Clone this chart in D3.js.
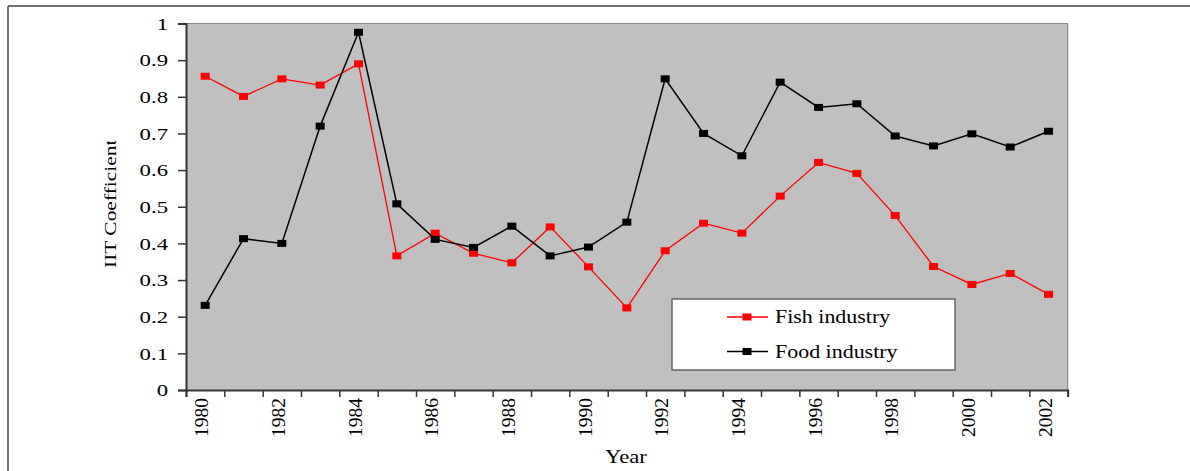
<!DOCTYPE html>
<html>
<head>
<meta charset="utf-8">
<script src="https://cdn.jsdelivr.net/npm/d3@7"></script>
<style>
  html, body { margin: 0; padding: 0; background: #fff; }
  svg { display: block; }
  text { font-family: "Liberation Serif", "Times New Roman", serif; fill: #000; }
</style>
</head>
<body>
<svg id="chart" width="1190" height="471"></svg>
<script>
const years = [1980,1981,1982,1983,1984,1985,1986,1987,1988,1989,1990,1991,1992,1993,1994,1995,1996,1997,1998,1999,2000,2001,2002];
const fishIndustry = [0.856,0.801,0.849,0.832,0.890,0.366,0.428,0.373,0.347,0.445,0.336,0.224,0.380,0.455,0.428,0.529,0.621,0.591,0.476,0.337,0.288,0.318,0.261];
const foodIndustry = [0.231,0.413,0.400,0.720,0.976,0.508,0.411,0.389,0.447,0.366,0.390,0.458,0.849,0.700,0.639,0.840,0.771,0.781,0.693,0.666,0.699,0.663,0.706];
const yTicks = [0,0.1,0.2,0.3,0.4,0.5,0.6,0.7,0.8,0.9,1];
const yTickLabels = ["0","0.1","0.2","0.3","0.4","0.5","0.6","0.7","0.8","0.9","1"];
const xTickLabels = [1980,1982,1984,1986,1988,1990,1992,1994,1996,1998,2000,2002];
const seriesNames = ["Fish industry","Food industry"];
const seriesColors = ["#ff0000","#000000"];

const svg = d3.select("#chart");
const L = 186, R = 1067.7, T = 23.5, B = 390;

// outer frame
svg.append("line").attr("x1",8).attr("x2",1190).attr("y1",6).attr("y2",6)
  .attr("stroke","#404040").attr("stroke-width",1.5);
svg.append("line").attr("x1",8).attr("x2",8).attr("y1",6).attr("y2",471)
  .attr("stroke","#404040").attr("stroke-width",1.5);

const x = d3.scaleBand().domain(years).range([L, R]).padding(0);
const xb = d3.scaleLinear().domain([1979.5, 2002.5]).range([L, R]);
const y = d3.scaleLinear().domain([0, 1]).range([B, T]);
const bw = x.bandwidth();
const cx = d => x(d) + bw / 2;

// plot area
svg.append("rect").attr("x",L).attr("y",T).attr("width",R-L).attr("height",B-T)
  .attr("fill","#c0c0c0");
svg.append("path").attr("d",`M${L},${T}H${R}V${B}`).attr("fill","none")
  .attr("stroke","#8a8a8a").attr("stroke-width",1.2);

// y axis
const yAxis = d3.axisLeft(y).tickValues(yTicks).tickSize(8).tickPadding(10)
  .tickFormat((d,i) => yTickLabels[i]);
const gy = svg.append("g").attr("transform",`translate(${L},0)`).call(yAxis);
gy.select(".domain").attr("stroke","#333").attr("stroke-width",2);
gy.selectAll(".tick line").attr("stroke","#333").attr("stroke-width",1.5);
gy.selectAll(".tick text")
  .attr("x", -18/1.3).attr("dy","0.33em")
  .attr("transform","scale(1.3,1)")
  .style("font-size","17.5px").style("font-family","'Liberation Serif', serif").attr("fill","#000");

// x axis: ticks at category boundaries
const bounds = d3.range(0, years.length + 1).map(i => 1979.5 + i);
const xAxis = d3.axisBottom(xb).tickValues(bounds).tickSize(7).tickFormat("");
const gx = svg.append("g").attr("transform",`translate(0,${B})`).call(xAxis);
gx.select(".domain").attr("stroke","#333").attr("stroke-width",2);
gx.selectAll(".tick line").attr("stroke","#333").attr("stroke-width",1.5);

svg.append("g").selectAll("text").data(xTickLabels).join("text")
  .attr("transform", d => `translate(${cx(d)+3},398) rotate(-90)`)
  .attr("text-anchor","end")
  .style("font-size","19.5px")
  .text(d => d);

// axis titles
svg.append("text").attr("transform","translate(626,463) scale(1.26,1)")
  .attr("text-anchor","middle").style("font-size","18px").text("Year");

svg.append("clipPath").attr("id","ylabclip").append("rect")
  .attr("x",90).attr("y",141).attr("width",40).attr("height",200);
svg.append("g").attr("clip-path","url(#ylabclip)").append("text")
  .attr("transform","translate(115.5,268) rotate(-90) scale(1.3,1)")
  .attr("text-anchor","start").style("font-size","16.5px").text("IIT Coefficient");

// series
const series = [fishIndustry, foodIndustry];
const line = d3.line().x((d,i) => cx(years[i])).y(d => y(d));
series.forEach((vals, si) => {
  svg.append("path").datum(vals).attr("d", line).attr("fill","none")
    .attr("stroke", seriesColors[si]).attr("stroke-width", si === 0 ? 1.3 : 1.5);
  svg.append("g").selectAll("rect").data(vals).join("rect")
    .attr("x", (d,i) => cx(years[i]) - 4.5)
    .attr("y", d => y(d) - 3.5)
    .attr("width", 9).attr("height", 7)
    .attr("fill", seriesColors[si]);
});

// legend
const lg = svg.append("g");
lg.append("rect").attr("x",672).attr("y",299).attr("width",283).attr("height",71)
  .attr("fill","#fff").attr("stroke","#666").attr("stroke-width",1.5);
const rowsY = [317, 351.5];
seriesNames.forEach((name, i) => {
  lg.append("line").attr("x1",727).attr("x2",768).attr("y1",rowsY[i]).attr("y2",rowsY[i])
    .attr("stroke",seriesColors[i]).attr("stroke-width",1.3);
  lg.append("rect").attr("x",747-4.5).attr("y",rowsY[i]-3.5).attr("width",9).attr("height",7)
    .attr("fill",seriesColors[i]);
  lg.append("text").attr("transform",`translate(775,${rowsY[i]+6}) scale(1.22,1)`)
    .style("font-size","18px").text(name);
});
</script>
</body>
</html>
